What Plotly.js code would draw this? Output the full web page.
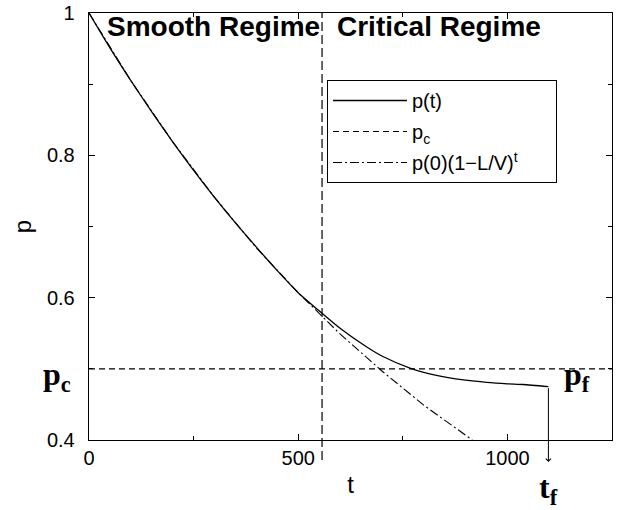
<!DOCTYPE html>
<html>
<head>
<meta charset="utf-8">
<script src="https://cdn.plot.ly/plotly-3.0.1.min.js"></script>
<style>html,body{margin:0;padding:0;background:#fff;}#chart{width:621px;height:510px;}</style>
</head>
<body>
<div id="chart"></div>
<script>
// p(t) curve
var tCurve = [0, 50, 100, 150, 200, 250, 300, 350, 400, 450, 500, 557, 600, 663, 700, 767, 800, 855, 900, 950, 1000, 1038, 1098];
var pCurve = [1, 0.951, 0.905, 0.861, 0.819, 0.779, 0.741, 0.705, 0.671, 0.638, 0.607, 0.578, 0.557, 0.531, 0.518, 0.501, 0.495, 0.488, 0.484, 0.481, 0.479, 0.478, 0.475];
// p(0)(1-L/V)^t
var tExp = [0, 100, 200, 300, 400, 500, 600, 700, 800, 900, 916];
var pExp = [1, 0.905, 0.819, 0.741, 0.670, 0.607, 0.549, 0.497, 0.449, 0.407, 0.400];
// critical threshold
var tLimits = [0, 1250];
var pc = 0.5;
var tc = 557;      // boundary between regimes
var tf = 1098;     // final time
var pf = 0.475;    // final p
var xRange = [0, 1250];
var yRange = [0.4, 1];
var names = ['p(t)', 'p<sub>c</sub>', 'p(0)(1\u2212L/V)<sup>t</sup>'];
var legendPad = '\u00a0\u00a0\u00a0\u00a0\u00a0\u00a0';

var sans = 'Liberation Sans, Arial, sans-serif';
var serif = 'Liberation Serif, Times New Roman, serif';

var traces = [
  {x: tCurve, y: pCurve, mode: 'lines', name: names[0], legendgroup: 'a',
   line: {color: '#000', width: 1.3, shape: 'spline', smoothing: 0.6}},
  {x: tLimits, y: [pc, pc], mode: 'lines', name: names[1], legendgroup: 'b',
   line: {color: '#000', width: 1.1, dash: '6px,4px'}},
  {x: tExp, y: pExp, mode: 'lines', name: names[2] + legendPad, legendgroup: 'c',
   line: {color: '#000', width: 1.1, dash: '9px,3px,2px,3px'}}
];

var axisCommon = {
  showline: true, linecolor: '#000', linewidth: 1.3, mirror: 'ticks',
  ticks: 'inside', ticklen: 6, tickwidth: 1, tickcolor: '#000',
  showgrid: false, zeroline: false,
  tickfont: {family: sans, size: 20, color: '#000'}
};

var layout = {
  width: 621, height: 510,
  margin: {l: 89, r: 9, t: 13, b: 70},
  paper_bgcolor: '#fff', plot_bgcolor: '#fff',
  showlegend: true,
  legend: {
    x: (327 - 89) / 523, y: (440 - 80) / 427, xanchor: 'left', yanchor: 'top',
    bordercolor: '#000', borderwidth: 1, bgcolor: '#fff',
    font: {family: sans, size: 20, color: '#000'},
    itemwidth: 74, tracegroupgap: 2, traceorder: 'grouped'
  },
  xaxis: Object.assign({}, axisCommon, {
    range: xRange, tick0: 0, dtick: 500, ticklabelstandoff: 0,
    minor: {dtick: 250, ticks: 'inside', ticklen: 4, tickcolor: '#000'},
    title: {text: 't', font: {family: sans, size: 24, color: '#000'}, standoff: 8}
  }),
  yaxis: Object.assign({}, axisCommon, {
    range: yRange, tick0: 0.4, dtick: 0.2, ticklabelstandoff: 9,
    minor: {dtick: 0.1, ticks: 'inside', ticklen: 4, tickcolor: '#000'},
    title: {text: 'p', font: {family: sans, size: 24, color: '#000'}, standoff: 8}
  }),
  shapes: [
    {type: 'line', xref: 'paper', yref: 'paper', x0: tc / xRange[1], x1: tc / xRange[1], y0: -0.047, y1: 1,
     line: {color: '#000', width: 1.2, dash: '9px,4px'}}
  ],
  annotations: [
    {xref: 'paper', yref: 'paper', x: (105 - 89) / 523, y: 1, xanchor: 'left', yanchor: 'top', yshift: 4,
     text: '<b>Smooth Regime</b>', showarrow: false, font: {family: sans, size: 28, color: '#000'}},
    {xref: 'paper', yref: 'paper', x: (335 - 89) / 523, y: 1, xanchor: 'left', yanchor: 'top', yshift: 4,
     text: '<b>Critical Regime</b>', showarrow: false, font: {family: sans, size: 28, color: '#000'}},
    {xref: 'paper', yref: 'y', x: (57 - 89) / 523, y: pc, xanchor: 'center', yanchor: 'middle', yshift: -8,
     text: '<b>p<sub>c</sub></b>', showarrow: false, font: {family: serif, size: 32, color: '#000'}},
    {xref: 'paper', yref: 'y', x: (577 - 89) / 523, y: pc, xanchor: 'center', yanchor: 'middle', yshift: -8,
     text: '<b>p<sub>f</sub></b>', showarrow: false, font: {family: serif, size: 32, color: '#000'}},
    {xref: 'x', yref: 'paper', x: tf, y: (440 - 490) / 427, xanchor: 'center', yanchor: 'middle',
     text: '<b>t<sub>f</sub></b>', showarrow: false, font: {family: serif, size: 32, color: '#000'}},
    {xref: 'x', yref: 'y', x: tf, y: 0.369, axref: 'x', ayref: 'y', ax: tf, ay: pf,
     text: '', showarrow: true, arrowhead: 4, arrowsize: 1, arrowwidth: 1, arrowcolor: '#000'}
  ]
};

Plotly.newPlot('chart', traces, layout, {staticPlot: true, displayModeBar: false});
</script>
</body>
</html>
